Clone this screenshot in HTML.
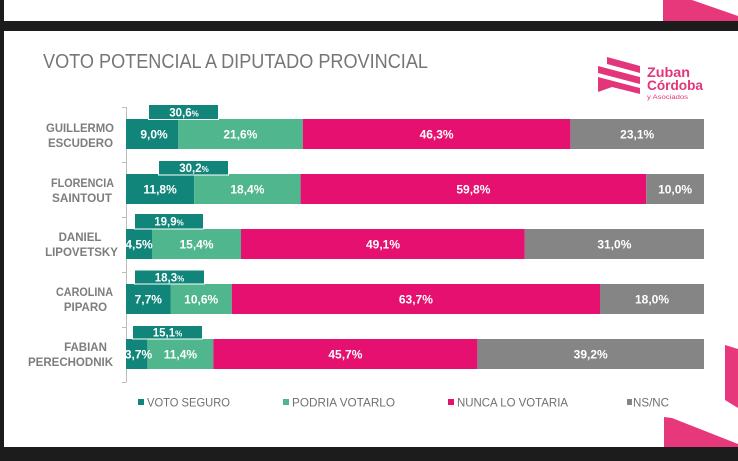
<!DOCTYPE html>
<html><head><meta charset="utf-8"><style>
html,body{margin:0;padding:0;background:#fff;}
svg{display:block;font-family:"Liberation Sans",sans-serif;}
</style></head><body>
<svg width="738" height="461" viewBox="0 0 738 461" xmlns="http://www.w3.org/2000/svg">
<rect x="0" y="0" width="738" height="461" fill="#ffffff"/>
<rect x="0" y="21" width="738" height="10" fill="#1c1c1c"/>
<rect x="0" y="447" width="738" height="14" fill="#1c1c1c"/>
<rect x="0" y="0" width="4" height="461" fill="#1c1c1c"/>
<polygon points="663,0 692,0 738,16 738,21 663,21" fill="#e6387a"/>
<polygon points="725,345 738,349 738,408 725,400" fill="#e6387a"/>
<polygon points="664,417 672,418 738,444 738,447 664,447" fill="#e6387a"/>

<text x="43" y="68" font-size="20" fill="#767676" textLength="385" lengthAdjust="spacingAndGlyphs">VOTO POTENCIAL A DIPUTADO PROVINCIAL</text>

<g fill="#e2357a">
<polygon points="607,57 640,66 640,73 607,64"/>
<polygon points="598,66 640,77 640,84 598,73"/>
<polygon points="598,77 640,88 640,94 612,87 598,92"/>
</g>
<text x="647" y="77" font-size="14" font-weight="bold" fill="#e2357a" textLength="43" lengthAdjust="spacingAndGlyphs">Zuban</text>
<text x="647" y="90" font-size="14" font-weight="bold" fill="#e2357a" textLength="56" lengthAdjust="spacingAndGlyphs">Córdoba</text>
<text x="647" y="99" font-size="6.5" fill="#e2357a" textLength="41" lengthAdjust="spacingAndGlyphs">y Asociados</text>

<g stroke="#bdbdbd" stroke-width="1">
<line x1="126.5" y1="107" x2="126.5" y2="382"/>
<line x1="122" y1="107.5" x2="126.5" y2="107.5"/>
<line x1="122" y1="162.5" x2="126.5" y2="162.5"/>
<line x1="122" y1="217.5" x2="126.5" y2="217.5"/>
<line x1="122" y1="272.5" x2="126.5" y2="272.5"/>
<line x1="122" y1="327.5" x2="126.5" y2="327.5"/>
<line x1="122" y1="382.5" x2="126.5" y2="382.5"/>
</g>

<g font-size="11.5" font-weight="bold" fill="#7d7d7d">
<text x="46" y="132" textLength="68" lengthAdjust="spacingAndGlyphs">GUILLERMO</text>
<text x="48" y="147" textLength="65" lengthAdjust="spacingAndGlyphs">ESCUDERO</text>
<text x="51" y="187" textLength="63" lengthAdjust="spacingAndGlyphs">FLORENCIA</text>
<text x="52" y="202" textLength="60" lengthAdjust="spacingAndGlyphs">SAINTOUT</text>
<text x="80" y="241" text-anchor="middle">DANIEL</text>
<text x="81.5" y="256" text-anchor="middle">LIPOVETSKY</text>
<text x="56" y="296" textLength="57" lengthAdjust="spacingAndGlyphs">CAROLINA</text>
<text x="85.5" y="311" text-anchor="middle">PIPARO</text>
<text x="85.5" y="351" text-anchor="middle">FABIAN</text>
<text x="28" y="366" textLength="85" lengthAdjust="spacingAndGlyphs">PERECHODNIK</text>
</g>

<g>
<rect x="126" y="119" width="52" height="30" fill="#12857a"/>
<rect x="178" y="119" width="124.8" height="30" fill="#50b68d"/>
<rect x="302.8" y="119" width="267.6" height="30" fill="#e5106f"/>
<rect x="570.4" y="119" width="133.6" height="30" fill="#858585"/>
<rect x="126" y="174" width="68.2" height="30" fill="#12857a"/>
<rect x="194.2" y="174" width="106.4" height="30" fill="#50b68d"/>
<rect x="300.6" y="174" width="345.6" height="30" fill="#e5106f"/>
<rect x="646.2" y="174" width="57.8" height="30" fill="#858585"/>
<rect x="126" y="229" width="26" height="30" fill="#12857a"/>
<rect x="152" y="229" width="89" height="30" fill="#50b68d"/>
<rect x="241" y="229" width="283.8" height="30" fill="#e5106f"/>
<rect x="524.8" y="229" width="179.2" height="30" fill="#858585"/>
<rect x="126" y="284" width="44.5" height="30" fill="#12857a"/>
<rect x="170.5" y="284" width="61.3" height="30" fill="#50b68d"/>
<rect x="231.8" y="284" width="368.2" height="30" fill="#e5106f"/>
<rect x="600" y="284" width="104" height="30" fill="#858585"/>
<rect x="126" y="339" width="21.4" height="30" fill="#12857a"/>
<rect x="147.4" y="339" width="65.9" height="30" fill="#50b68d"/>
<rect x="213.3" y="339" width="264.1" height="30" fill="#e5106f"/>
<rect x="477.4" y="339" width="226.6" height="30" fill="#858585"/>
</g>

<g font-size="12" font-weight="bold" fill="#ffffff" text-anchor="middle">
<text x="154" y="138.5">9,0%</text>
<text x="240.4" y="138.5">21,6%</text>
<text x="436.6" y="138.5">46,3%</text>
<text x="637.2" y="138.5">23,1%</text>
<text x="160.1" y="193.5">11,8%</text>
<text x="247.4" y="193.5">18,4%</text>
<text x="473.4" y="193.5">59,8%</text>
<text x="675.1" y="193.5">10,0%</text>
<text x="139" y="248.5">4,5%</text>
<text x="196.5" y="248.5">15,4%</text>
<text x="383" y="248.5">49,1%</text>
<text x="614.4" y="248.5">31,0%</text>
<text x="148.3" y="303.5">7,7%</text>
<text x="201.2" y="303.5">10,6%</text>
<text x="415.9" y="303.5">63,7%</text>
<text x="652" y="303.5">18,0%</text>
<text x="138.5" y="358.5">3,7%</text>
<text x="180.4" y="358.5">11,4%</text>
<text x="345.4" y="358.5">45,7%</text>
<text x="590.7" y="358.5">39,2%</text>
</g>

<g fill="#12857a" stroke="#ffffff" stroke-width="1">
<rect x="148.5" y="104.5" width="70" height="15"/>
<rect x="158.5" y="160.5" width="70" height="14.5"/>
<rect x="134.5" y="213.5" width="69" height="15.5"/>
<rect x="134.5" y="270" width="70" height="14"/>
<rect x="132.5" y="325.5" width="70" height="13.5"/>
</g>
<g font-size="11.5" font-weight="bold" fill="#ffffff" text-anchor="middle">
<text x="184" y="116.5">30,6<tspan font-size="8">%</tspan></text>
<text x="194" y="172">30,2<tspan font-size="8">%</tspan></text>
<text x="169" y="225.5">19,9<tspan font-size="8">%</tspan></text>
<text x="169.5" y="281.5">18,3<tspan font-size="8">%</tspan></text>
<text x="167.5" y="336.5">15,1<tspan font-size="8">%</tspan></text>
</g>

<rect x="138" y="399" width="6" height="6" fill="#12857a"/>
<rect x="283" y="399" width="6" height="6" fill="#50b68d"/>
<rect x="448" y="399" width="6" height="6" fill="#e5106f"/>
<rect x="627" y="399" width="5" height="6" fill="#858585"/>
<g font-size="12" fill="#707070">
<text x="147" y="406.5" textLength="83" lengthAdjust="spacingAndGlyphs">VOTO SEGURO</text>
<text x="292" y="406.5" textLength="103" lengthAdjust="spacingAndGlyphs">PODRIA VOTARLO</text>
<text x="457" y="406.5" textLength="111" lengthAdjust="spacingAndGlyphs">NUNCA LO VOTARIA</text>
<text x="633" y="406.5" textLength="36" lengthAdjust="spacingAndGlyphs">NS/NC</text>
</g>
</svg>
</body></html>
